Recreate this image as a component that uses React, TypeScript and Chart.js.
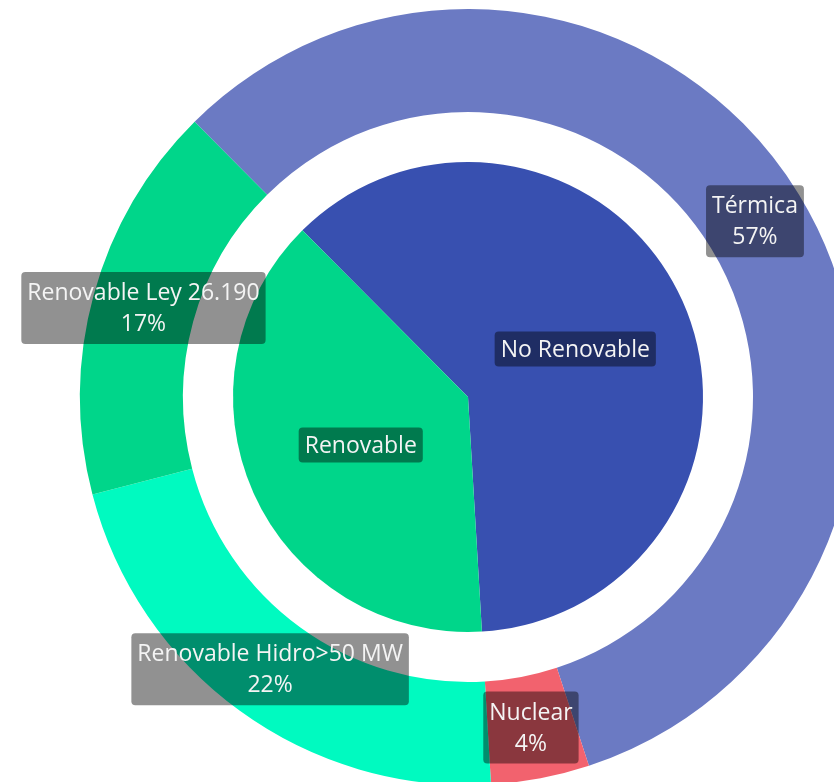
import React, { useEffect, useRef } from "react";
import { Chart, registerables } from "chart.js";

Chart.register(...registerables);

// Outer ring (sources)
const outerLabels = ["Térmica", "Nuclear", "Renovable Hidro>50 MW", "Renovable Ley 26.190"];
const outerValues = [57.4, 4.1, 21.9, 16.6];
const outerColors = ["#6b7ac3", "#f2626e", "#00fac0", "#00d68a"];

// Inner pie (groups)
const innerLabels = ["No Renovable", "Renovable"];
const innerValues = [61.5, 38.5];
const innerColors = ["#3850b0", "#00d68a"];

const ROTATION = -44.8;

const labelCfg: Record<number, { names: string[]; showPct: boolean; lineH: number }> = {
  0: { names: outerLabels, showPct: true, lineH: 31 },
  2: { names: innerLabels, showPct: false, lineH: 25 },
};

const ringLabelsPlugin = {
  id: "ringLabels",
  afterDatasetsDraw(chart: any) {
    const ctx: CanvasRenderingContext2D = chart.ctx;
    ctx.save();
    ctx.font = '23px "Open Sans", sans-serif';
    ctx.textAlign = "center";
    ctx.textBaseline = "middle";
    Object.keys(labelCfg).forEach((k) => {
      const di = Number(k);
      const cfg = labelCfg[di];
      const ds = chart.data.datasets[di];
      const total = (ds.data as number[]).reduce((a, b) => a + b, 0);
      const meta = chart.getDatasetMeta(di);
      meta.data.forEach((arc: any, i: number) => {
        const p = arc.getProps(["x", "y", "startAngle", "endAngle", "innerRadius", "outerRadius"], true);
        const mid = (p.startAngle + p.endAngle) / 2;
        const r = (p.innerRadius + p.outerRadius) / 2;
        const cx = p.x + Math.cos(mid) * r;
        const cy = p.y + Math.sin(mid) * r;
        const lines = [cfg.names[i]];
        if (cfg.showPct) lines.push(Math.round((ds.data[i] / total) * 100) + "%");
        const padX = 6;
        const padY = 5;
        const w = Math.max(...lines.map((l) => ctx.measureText(l).width)) + padX * 2;
        const h = lines.length * cfg.lineH + padY * 2;
        const bx = cx - w / 2;
        const by = cy - h / 2;
        ctx.fillStyle = "rgba(0,0,0,0.43)";
        ctx.beginPath();
        if ((ctx as any).roundRect) (ctx as any).roundRect(bx, by, w, h, 4);
        else ctx.rect(bx, by, w, h);
        ctx.fill();
        ctx.fillStyle = "#f4f4f4";
        lines.forEach((l, li) => {
          ctx.fillText(l, cx, by + padY + cfg.lineH * li + cfg.lineH / 2 + 1);
        });
      });
    });
    ctx.restore();
  },
};

export default function App() {
  const ref = useRef<HTMLCanvasElement | null>(null);

  useEffect(() => {
    if (!ref.current) return;
    const chart = new Chart(ref.current, {
      type: "doughnut",
      data: {
        labels: outerLabels,
        datasets: [
          {
            data: outerValues,
            backgroundColor: outerColors,
            borderWidth: 0,
            hoverOffset: 0,
            weight: 103,
          } as any,
          {
            data: [1],
            backgroundColor: ["rgba(0,0,0,0)"],
            borderWidth: 0,
            hoverOffset: 0,
            weight: 50,
          } as any,
          {
            data: innerValues,
            backgroundColor: innerColors,
            borderWidth: 0,
            hoverOffset: 0,
            weight: 235,
          } as any,
        ],
      },
      options: {
        responsive: false,
        animation: false,
        cutout: 0,
        rotation: ROTATION,
        layout: { padding: 9 },
        plugins: {
          legend: { display: false },
          tooltip: { enabled: false },
        },
      },
      plugins: [ringLabelsPlugin],
    });
    return () => chart.destroy();
  }, []);

  return (
    <div
      style={{
        position: "fixed",
        left: 0,
        top: 0,
        width: 834,
        height: 782,
        overflow: "hidden",
        background: "#fff",
      }}
    >
      <canvas
        ref={ref}
        width={936}
        height={794}
        style={{ position: "absolute", left: 0, top: 0, width: 936, height: 794 }}
      />
    </div>
  );
}
